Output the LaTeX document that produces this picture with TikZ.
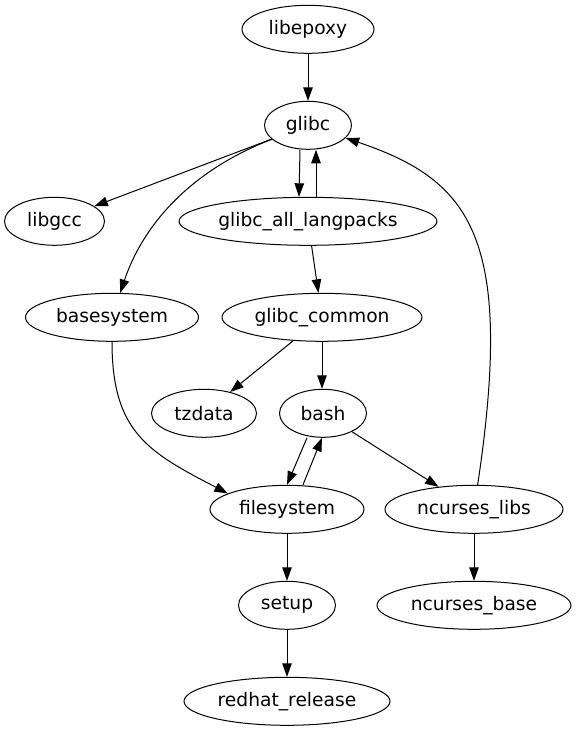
\documentclass[tikz,border=0pt]{standalone}
\usepackage{fontspec}
\setmainfont{DejaVu Sans}
\usetikzlibrary{shapes.geometric,arrows.meta}
\begin{document}
\begin{tikzpicture}[x=1pt,y=-1pt,
  pkg/.style={draw, ellipse, inner sep=0pt, minimum height=48pt, line width=1pt,
    font=\fontsize{18.67}{22}\selectfont},
  dep/.style={-{Triangle[length=13.5pt,width=9.5pt]}, line width=1pt}]
\useasboundingbox (0,0) rectangle (576,731);
% nodes
\node[pkg, minimum width=132pt] (libepoxy)  at (308,29.3)  {libepoxy};
\node[pkg, minimum width=87pt]  (glibc)     at (308,125.3) {glibc};
\node[pkg, minimum width=100pt] (libgcc)    at (54.5,221.3) {libgcc};
\node[pkg, minimum width=258pt] (langpacks) at (308,221.3) {glibc\_all\_langpacks};
\node[pkg, minimum width=173pt] (basesystem) at (112,317.3) {basesystem};
\node[pkg, minimum width=200pt] (common)    at (322,317.3) {glibc\_common};
\node[pkg, minimum width=105pt] (tzdata)    at (204,413.3) {tzdata};
\node[pkg, minimum width=87pt]  (bash)      at (323,413.3) {bash};
\node[pkg, minimum width=154pt] (filesystem) at (287,509.3) {filesystem};
\node[pkg, minimum width=178pt] (nlibs)     at (474,509.3) {ncurses\_libs};
\node[pkg, minimum width=97pt]  (setup)     at (287,605.3) {setup};
\node[pkg, minimum width=194pt] (nbase)     at (474,605.3) {ncurses\_base};
\node[pkg, minimum width=206pt] (redhat)    at (287,701.3) {redhat\_release};
% edges
\draw[dep] (libepoxy) -- (glibc);
\draw[dep] (glibc) -- (libgcc);
\draw[dep] (glibc) .. controls (187,172) and (142,228) .. (basesystem);
\draw[dep] ([xshift=-8pt]glibc.south) -- ([xshift=-9pt]langpacks.north);
\draw[dep] ([xshift=8pt]langpacks.north) -- ([xshift=8pt]glibc.south);
\draw[dep] (langpacks) -- (common);
\draw[dep] (common) -- (tzdata);
\draw[dep] (common.south) -- (common.south |- bash.north);
\draw[dep] (basesystem.south) .. controls (112,432) and (148,452) .. (filesystem.165);
\draw[dep] ([xshift=-16pt]bash.south) -- (filesystem.north);
\draw[dep] ([xshift=16pt]filesystem.north) -- ([xshift=-1pt]bash.south);
\draw[dep] (bash) -- (nlibs);
\draw[dep] (nlibs) .. controls (515,236) and (470,180) .. (glibc);
\draw[dep] (nlibs) -- (nbase);
\draw[dep] (filesystem) -- (setup);
\draw[dep] (setup) -- (redhat);
\end{tikzpicture}
\end{document}
